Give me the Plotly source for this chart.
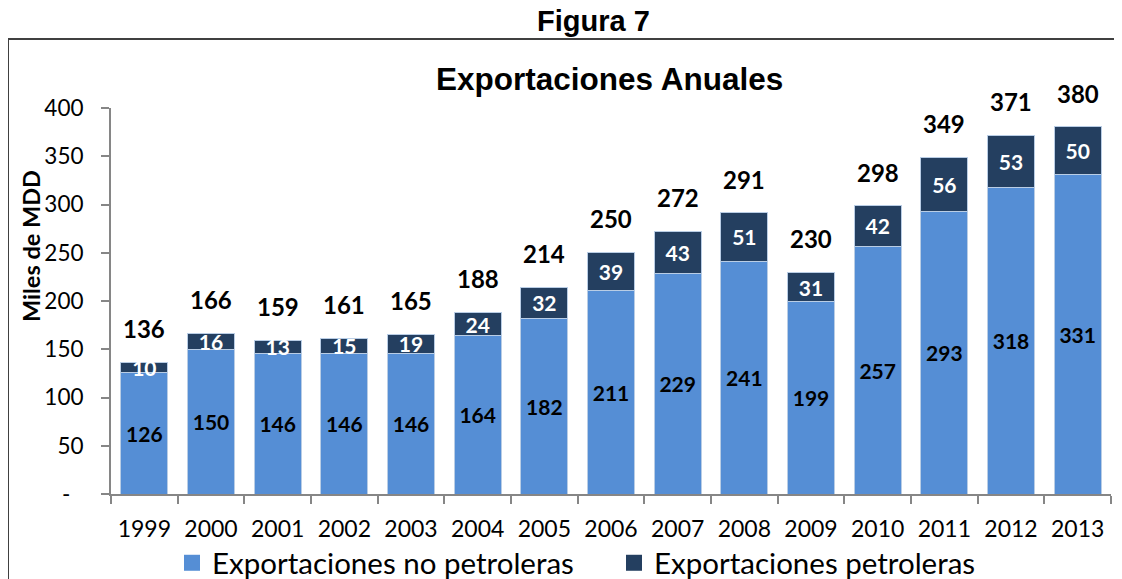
import plotly.graph_objects as go

# Datos (miles de millones de dólares)
anios = ["1999", "2000", "2001", "2002", "2003", "2004", "2005", "2006",
         "2007", "2008", "2009", "2010", "2011", "2012", "2013"]
no_petroleras = [126, 150, 146, 146, 146, 164, 182, 211, 229, 241, 199, 257, 293, 318, 331]
petroleras = [10, 16, 13, 15, 19, 24, 32, 39, 43, 51, 31, 42, 56, 53, 50]
totales = [136, 166, 159, 161, 165, 188, 214, 250, 272, 291, 230, 298, 349, 371, 380]
y_ticks = [0, 50, 100, 150, 200, 250, 300, 350, 400]
y_ticktext = ["-\u2007", "50", "100", "150", "200", "250", "300", "350", "400"]

AZUL = "#558ED5"
MARINO = "#243F60"
FUENTE = "Lato"

fig = go.Figure()

fig.add_trace(go.Bar(
    x=anios, y=no_petroleras, name="Exportaciones no petroleras", showlegend=False,
    marker=dict(color=AZUL, line=dict(color="#B9CDE5", width=1)),
    text=no_petroleras, textposition="inside", insidetextanchor="middle",
    constraintext="none", textangle=0,
    insidetextfont=dict(family=FUENTE, size=21, color="black", weight="bold"),
))
fig.add_trace(go.Bar(
    x=anios, y=petroleras, name="Exportaciones petroleras", showlegend=False,
    marker=dict(color=MARINO, line=dict(color="#B9CDE5", width=1)),
    text=petroleras, textposition="inside", insidetextanchor="middle",
    constraintext="none", textangle=0,
    insidetextfont=dict(family=FUENTE, size=21, color="white", weight="bold"),
))

# leyenda con cuadros grandes
for nombre, color in [("Exportaciones no petroleras", AZUL), ("Exportaciones petroleras", MARINO)]:
    fig.add_trace(go.Scatter(x=[None], y=[None], mode="markers", name=nombre,
                             marker=dict(symbol="square", size=18, color=color)))

# totales sobre cada barra (x como índice de categoría)
for i, t in enumerate(totales):
    fig.add_annotation(x=i, y=t, text=str(t), showarrow=False, yanchor="middle",
                       yshift=34, font=dict(family=FUENTE, size=24, color="black", weight="bold"))

# título del eje y
fig.add_annotation(x=-0.08, y=0.6425, xref="paper", yref="paper", text="Miles de MDD",
                   textangle=-90, showarrow=False, xanchor="center", yanchor="middle",
                   font=dict(family=FUENTE, size=23.5, color="black", weight="bold"))

# títulos
fig.add_annotation(x=0.4985, y=(494 - 79) / 386, xref="paper", yref="paper",
                   text="Exportaciones Anuales", showarrow=False,
                   xanchor="center", yanchor="middle",
                   font=dict(family="Liberation Sans", size=31.5, color="black", weight="bold"))
fig.add_annotation(x=0.482, y=(494 - 21) / 386, xref="paper", yref="paper",
                   text="Figura 7", showarrow=False,
                   xanchor="center", yanchor="middle",
                   font=dict(family="Liberation Sans", size=29, color="black", weight="bold"))

# marco del gráfico
fig.add_shape(type="rect", xref="paper", yref="paper",
              x0=-0.103, y0=-0.30, x1=1.03, y1=(494 - 39) / 386,
              line=dict(color="#404040", width=2), fillcolor="rgba(0,0,0,0)")

# la página añade 8 px de margen: se compensa aquí
fig.update_layout(
    barmode="stack", bargap=0.295,
    width=1114, height=600,
    margin=dict(l=103, r=11, t=100, b=114),
    paper_bgcolor="white", plot_bgcolor="white",
    font=dict(family=FUENTE, size=23, color="black"),
    showlegend=True,
    legend=dict(orientation="h", x=0.061, xanchor="left", y=-0.179, yanchor="middle",
                font=dict(family=FUENTE, size=29.5, color="black"), traceorder="normal",
                entrywidth=397, entrywidthmode="pixels",
                bgcolor="rgba(0,0,0,0)"),
    xaxis=dict(type="category", showline=True, linecolor="#868686", linewidth=2,
               ticks="outside", tickson="boundaries", ticklen=8, tickcolor="#868686",
               tickwidth=2, showgrid=False, ticklabelstandoff=13,
               tickfont=dict(family=FUENTE, size=23)),
    yaxis=dict(range=[0, 400], tickvals=y_ticks, ticktext=y_ticktext, showline=True,
               linecolor="#868686", linewidth=2, ticks="outside", ticklen=8,
               tickcolor="#868686", tickwidth=2, showgrid=False, zeroline=False,
               ticklabelstandoff=13, tickfont=dict(family=FUENTE, size=22.5)),
)

fig.write_html("out.html")
